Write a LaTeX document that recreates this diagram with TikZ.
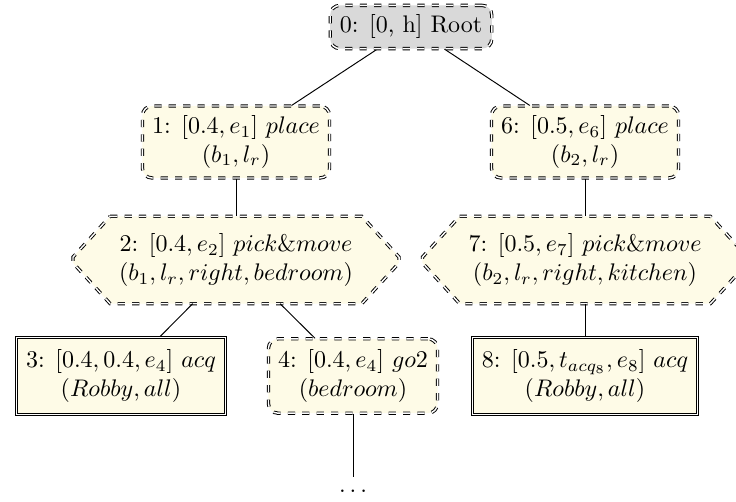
\documentclass[tikz,border=0pt]{standalone}
\usetikzlibrary{backgrounds}
\definecolor{nodefill}{RGB}{254,251,231}
\definecolor{rootfill}{RGB}{217,217,217}
\begin{document}
\begin{tikzpicture}[x=0.41667pt, y=-0.41667pt,
  every node/.style={align=center},
  dbox/.style={draw, double, dashed, rounded corners=4pt, fill=nodefill, inner xsep=4pt, inner ysep=4pt},
  rootbox/.style={dbox, fill=rootfill},
  leafbox/.style={draw, double, fill=nodefill, inner xsep=4pt, inner ysep=5pt},
  hexbox/.style={inner xsep=3.5pt, inner ysep=7pt},
  hexdraw/.style={draw, double, dashed, fill=nodefill},
  edge/.style={draw, line width=0.4pt}]
\useasboundingbox (0,0) rectangle (736,501);

\node[rootbox] (root) at (411,27) {0: [0, h] Root};
\node[dbox] (n1) at (236,142) {1: $[0.4, e_1]$ $place$\\ $(b_1, l_r)$};
\node[dbox] (n6) at (585,142) {6: $[0.5, e_6]$ $place$\\ $(b_2, l_r)$};
\node[hexbox] (n2) at (236,260) {2: $[0.4, e_2]$ $pick\&move$\\ $(b_1, l_r, right, bedroom)$};
\node[hexbox] (n7) at (585,260) {7: $[0.5, e_7]$ $pick\&move$\\ $(b_2, l_r, right, kitchen)$};
\node[leafbox] (n3) at (121,376) {3: $[0.4, 0.4, e_4]$ $acq$\\ $(Robby, all)$};
\node[dbox, inner ysep=4.5pt] (n4) at (353,376) {4: $[0.4, e_4]$ $go2$\\ $(bedroom)$};
\node[leafbox] (n8) at (585,376) {8: $[0.5, t_{acq_8}, e_8]$ $acq$\\ $(Robby, all)$};
\node[inner xsep=2pt, inner ysep=5pt] (dots) at (353,491) {$\ldots$};

\begin{pgfonlayer}{background}
\foreach \h in {n2,n7}{
  \path[hexdraw] (\h.north west) -- (\h.north east)
    -- ([xshift=15.5pt,yshift=1.2pt]\h.east) -- ([xshift=15.5pt,yshift=-1.2pt]\h.east)
    -- (\h.south east) -- (\h.south west)
    -- ([xshift=-15.5pt,yshift=-1.2pt]\h.west) -- ([xshift=-15.5pt,yshift=1.2pt]\h.west)
    -- cycle;
}
\draw[edge] (root) -- (n1);
\draw[edge] (root) -- (n6);
\draw[edge] (n1) -- (n2);
\draw[edge] (n6) -- (n7);
\draw[edge] (n2) -- (n3);
\draw[edge] (n2) -- (n4);
\draw[edge] (n7) -- (n8);
\draw[edge] (n4) -- (dots);
\end{pgfonlayer}
\end{tikzpicture}
\end{document}
